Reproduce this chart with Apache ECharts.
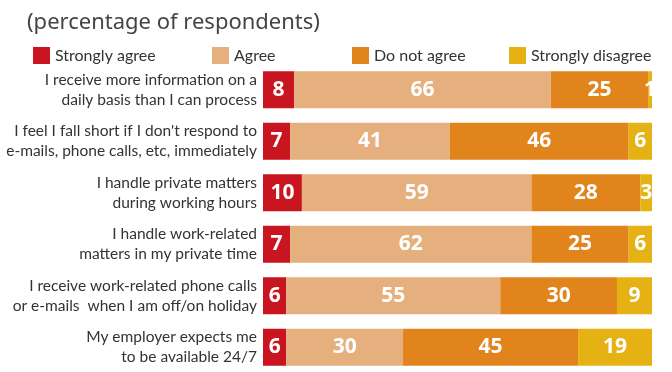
<!DOCTYPE html>
<html>
<head>
<meta charset="utf-8">
<script src="https://cdn.jsdelivr.net/npm/echarts@6/dist/echarts.min.js"></script>
<style>
  html, body { margin: 0; padding: 0; background: #fff; }
  #chart { width: 672px; height: 372px; }
</style>
</head>
<body>
<div id="chart"></div>
<script>
const categories = [
  "I receive more information on a\ndaily basis than I can process",
  "I feel I fall short if I don't respond to\ne-mails, phone calls, etc, immediately",
  "I handle private matters\nduring working hours",
  "I handle work-related\nmatters in my private time",
  "I receive work-related phone calls\nor e-mails  when I am off/on holiday",
  "My employer expects me\nto be available 24/7"
];
const seriesNames = ["Strongly agree", "Agree", "Do not agree", "Strongly disagree"];
const stronglyAgree = [8, 7, 10, 7, 6, 6];
const agree = [66, 41, 59, 62, 55, 30];
const doNotAgree = [25, 46, 28, 25, 30, 45];
const stronglyDisagree = [1, 6, 3, 6, 9, 19];
const colors = ["#C8151F", "#E5B07E", "#E1841C", "#E6B113"];

const narrow = 'Lato, "Liberation Sans Narrow", sans-serif';
const values = [stronglyAgree, agree, doNotAgree, stronglyDisagree];
const legendLeft = [28, 207, 347, 504];

const chart = echarts.init(document.getElementById('chart'), null, { renderer: 'canvas' });
chart.setOption({
  animation: false,
  color: colors,
  title: {
    text: "(percentage of respondents)",
    left: 22, top: 7,
    textStyle: { fontFamily: '"Noto Sans", "Open Sans", sans-serif', fontWeight: 'normal', fontSize: 22, color: '#444' }
  },
  legend: seriesNames.map((n, i) => ({
    data: [n],
    left: legendLeft[i],
    top: 42,
    icon: 'rect',
    itemWidth: 17,
    itemHeight: 17,
    selectedMode: false,
    textStyle: { fontFamily: narrow, fontSize: 16, color: '#333' }
  })),
  grid: { left: 263, right: 20, top: 64, height: 309, containLabel: false, outerBoundsMode: 'none' },
  xAxis: { type: 'value', min: 0, max: 100, show: false },
  yAxis: {
    type: 'category',
    inverse: true,
    data: categories,
    axisLine: { show: false },
    axisTick: { show: false },
    axisLabel: {
      margin: 6,
      align: 'right',
      fontFamily: narrow,
      fontSize: 15.5,
      lineHeight: 20,
      color: '#333'
    }
  },
  series: seriesNames.map((n, i) => ({
    name: n,
    type: 'bar',
    stack: 'total',
    barWidth: 37,
    data: values[i],
    itemStyle: { color: colors[i] },
    label: {
      show: true,
      position: 'inside',
      formatter: '{c}',
      color: '#fff',
      fontFamily: '"Open Sans", "Liberation Sans", sans-serif',
      fontWeight: 'bold',
      fontSize: 21
    }
  }))
});
</script>
</body>
</html>
